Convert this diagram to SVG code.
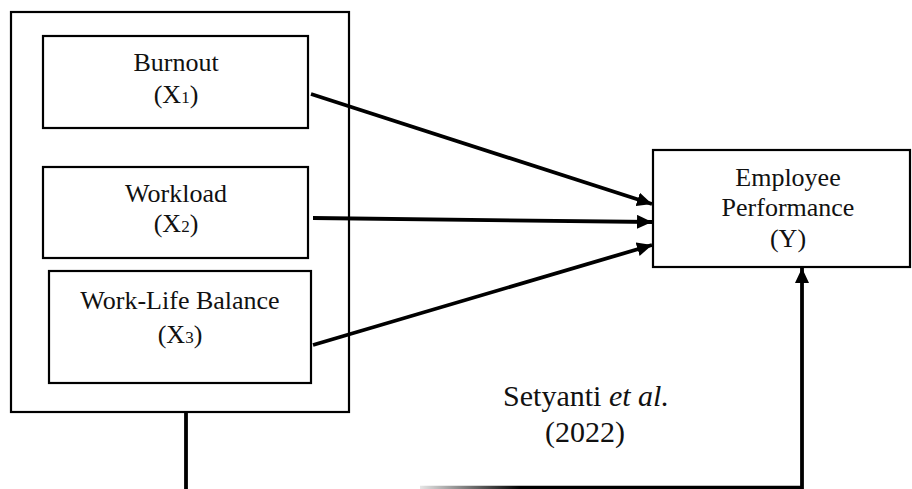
<svg xmlns="http://www.w3.org/2000/svg" width="912" height="489" viewBox="0 0 912 489">
<style>
.box{fill:#fff;stroke:#000;stroke-width:2.2}
.t{font-family:"Liberation Serif","Times New Roman",serif;font-size:26px;fill:#111;text-anchor:middle}
.c{fill:none;stroke:#000;stroke-width:3.8}
.big{font-size:30px}
</style>
<defs>
<marker id="ah" markerUnits="userSpaceOnUse" markerWidth="16" markerHeight="14" refX="15" refY="7" orient="auto">
<path d="M0,0 L15,7 L0,14 z" fill="#000"/>
</marker>
<linearGradient id="fade" gradientUnits="userSpaceOnUse" x1="420" y1="0" x2="520" y2="0">
<stop offset="0" stop-color="#000" stop-opacity="0.1"/>
<stop offset="1" stop-color="#000" stop-opacity="1"/>
</linearGradient>
</defs>
<rect width="912" height="489" fill="#fff"/>
<g id="group-x">
<rect class="box" x="11" y="12" width="338" height="400"/>
</g>
<g id="burnout">
<rect class="box" x="43" y="36" width="265" height="92"/>
<text class="t" x="176" y="71">Burnout</text>
<text class="t" x="176" y="103">(X<tspan font-size="17">1</tspan>)</text>
</g>
<g id="workload">
<rect class="box" x="43" y="167" width="265" height="91"/>
<text class="t" x="176" y="202">Workload</text>
<text class="t" x="176" y="232">(X<tspan font-size="17">2</tspan>)</text>
</g>
<g id="wlb">
<rect class="box" x="49" y="271" width="262" height="112"/>
<text class="t" x="180" y="309">Work-Life Balance</text>
<text class="t" x="180" y="343">(X<tspan font-size="17">3</tspan>)</text>
</g>
<g id="employee">
<rect class="box" x="653" y="150" width="257" height="117"/>
<text class="t" x="788" y="186">Employee</text>
<text class="t" x="788" y="216">Performance</text>
<text class="t" x="788" y="247">(Y)</text>
</g>
<g id="source">
<text class="t big" x="586" y="406">Setyanti <tspan font-style="italic">et al.</tspan></text>
<text class="t big" x="585" y="442">(2022)</text>
</g>
<g id="connectors">
<line class="c" x1="311" y1="94" x2="652" y2="204" marker-end="url(#ah)"/>
<line class="c" x1="313" y1="218" x2="652" y2="222" marker-end="url(#ah)"/>
<line class="c" x1="313" y1="345" x2="652" y2="245" marker-end="url(#ah)"/>
<line class="c" x1="186" y1="412" x2="186" y2="489"/>
<line x1="420" y1="487.5" x2="803" y2="487.5" stroke="url(#fade)" stroke-width="3.5"/>
<line class="c" x1="802" y1="489" x2="802" y2="268" marker-end="url(#ah)"/>
</g>
</svg>
